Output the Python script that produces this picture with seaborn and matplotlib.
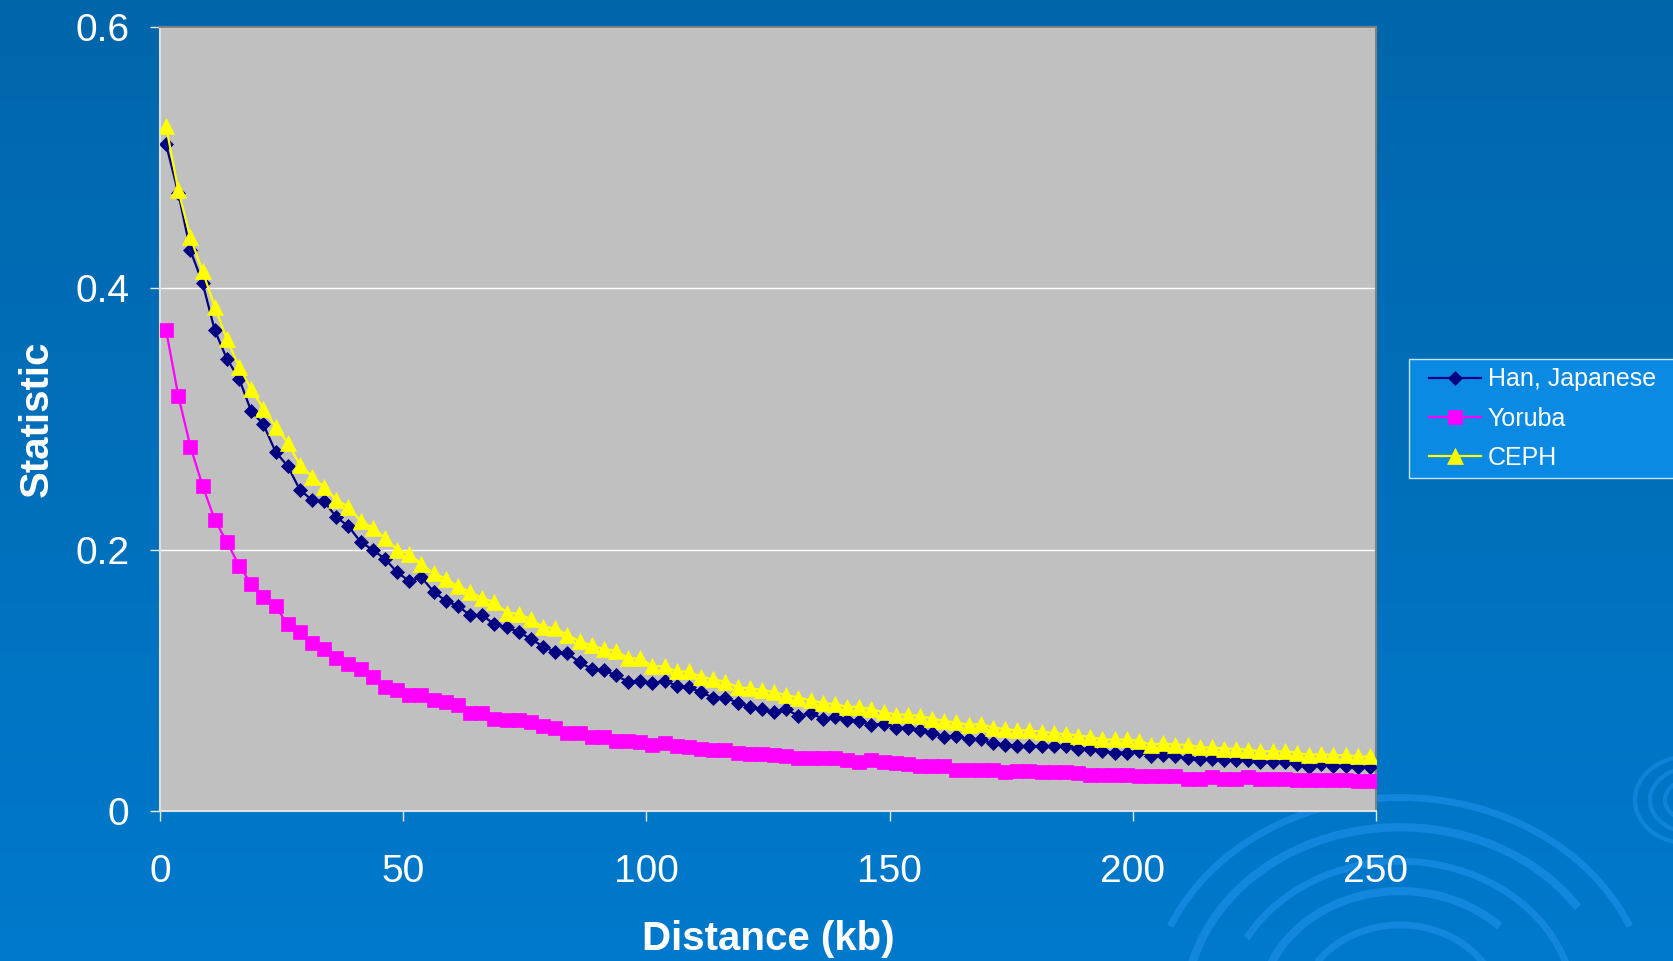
import numpy as np
import pandas as pd
import matplotlib
matplotlib.use("Agg")
import matplotlib.pyplot as plt
from matplotlib.patches import Arc, Rectangle
import seaborn as sns

# ---------------- data ----------------
distance_kb = [
    1.25, 3.75, 6.25, 8.75, 11.25, 13.75, 16.25, 18.75, 21.25, 23.75,
    26.25, 28.75, 31.25, 33.75, 36.25, 38.75, 41.25, 43.75, 46.25, 48.75,
    51.25, 53.75, 56.25, 58.75, 61.25, 63.75, 66.25, 68.75, 71.25, 73.75,
    76.25, 78.75, 81.25, 83.75, 86.25, 88.75, 91.25, 93.75, 96.25, 98.75,
    101.25, 103.75, 106.25, 108.75, 111.25, 113.75, 116.25, 118.75, 121.25, 123.75,
    126.25, 128.75, 131.25, 133.75, 136.25, 138.75, 141.25, 143.75, 146.25, 148.75,
    151.25, 153.75, 156.25, 158.75, 161.25, 163.75, 166.25, 168.75, 171.25, 173.75,
    176.25, 178.75, 181.25, 183.75, 186.25, 188.75, 191.25, 193.75, 196.25, 198.75,
    201.25, 203.75, 206.25, 208.75, 211.25, 213.75, 216.25, 218.75, 221.25, 223.75,
    226.25, 228.75, 231.25, 233.75, 236.25, 238.75, 241.25, 243.75, 246.25, 248.75,
]

han_japanese = [
    0.510, 0.473, 0.429, 0.404, 0.368, 0.346, 0.331, 0.306, 0.296, 0.275,
    0.264, 0.246, 0.238, 0.237, 0.225, 0.218, 0.206, 0.200, 0.193, 0.183,
    0.176, 0.179, 0.168, 0.161, 0.157, 0.150, 0.150, 0.143, 0.141, 0.137,
    0.132, 0.126, 0.122, 0.121, 0.114, 0.109, 0.108, 0.104, 0.099, 0.100,
    0.098, 0.100, 0.096, 0.095, 0.091, 0.087, 0.087, 0.083, 0.080, 0.078,
    0.076, 0.078, 0.073, 0.075, 0.071, 0.072, 0.070, 0.069, 0.066, 0.067,
    0.064, 0.064, 0.062, 0.060, 0.057, 0.058, 0.055, 0.055, 0.052, 0.051,
    0.050, 0.050, 0.050, 0.050, 0.050, 0.048, 0.048, 0.046, 0.045, 0.045,
    0.046, 0.042, 0.043, 0.042, 0.041, 0.040, 0.040, 0.039, 0.039, 0.039,
    0.038, 0.038, 0.038, 0.036, 0.034, 0.036, 0.035, 0.035, 0.034, 0.034,
]

yoruba = [
    0.368, 0.318, 0.279, 0.249, 0.223, 0.206, 0.188, 0.174, 0.164, 0.157,
    0.143, 0.137, 0.129, 0.124, 0.117, 0.113, 0.109, 0.103, 0.095, 0.093,
    0.089, 0.089, 0.085, 0.084, 0.081, 0.075, 0.075, 0.071, 0.070, 0.070,
    0.068, 0.065, 0.064, 0.060, 0.060, 0.057, 0.057, 0.054, 0.054, 0.053,
    0.051, 0.052, 0.050, 0.049, 0.048, 0.047, 0.047, 0.045, 0.044, 0.044,
    0.043, 0.042, 0.041, 0.041, 0.041, 0.041, 0.039, 0.038, 0.039, 0.038,
    0.037, 0.036, 0.035, 0.035, 0.035, 0.032, 0.032, 0.032, 0.032, 0.030,
    0.031, 0.031, 0.030, 0.030, 0.030, 0.029, 0.028, 0.028, 0.028, 0.028,
    0.027, 0.027, 0.027, 0.027, 0.025, 0.025, 0.026, 0.025, 0.025, 0.026,
    0.025, 0.025, 0.025, 0.024, 0.024, 0.024, 0.024, 0.024, 0.023, 0.023,
]

ceph = [
    0.524, 0.475, 0.439, 0.413, 0.386, 0.361, 0.340, 0.323, 0.308, 0.294,
    0.282, 0.265, 0.256, 0.248, 0.238, 0.233, 0.222, 0.217, 0.209, 0.200,
    0.197, 0.189, 0.182, 0.178, 0.172, 0.168, 0.163, 0.160, 0.152, 0.151,
    0.147, 0.141, 0.140, 0.135, 0.130, 0.127, 0.124, 0.123, 0.117, 0.117,
    0.111, 0.111, 0.107, 0.107, 0.103, 0.101, 0.099, 0.095, 0.094, 0.093,
    0.091, 0.089, 0.087, 0.085, 0.083, 0.082, 0.080, 0.080, 0.078, 0.076,
    0.074, 0.074, 0.073, 0.071, 0.069, 0.068, 0.066, 0.067, 0.064, 0.063,
    0.062, 0.062, 0.061, 0.060, 0.059, 0.058, 0.057, 0.055, 0.055, 0.055,
    0.054, 0.051, 0.052, 0.051, 0.051, 0.049, 0.049, 0.048, 0.048, 0.047,
    0.046, 0.046, 0.046, 0.045, 0.043, 0.044, 0.043, 0.043, 0.042, 0.042,
]

series_names = ["Han, Japanese", "Yoruba", "CEPH"]
x_ticks = [0, 50, 100, 150, 200, 250]
x_tick_labels = ["0", "50", "100", "150", "200", "250"]
y_ticks = [0, 0.2, 0.4, 0.6]
y_tick_labels = ["0", "0.2", "0.4", "0.6"]

# ---------------- style ----------------
plt.rcParams["font.family"] = ["Liberation Sans", "DejaVu Sans"]

W, H = 1674, 961
fig = plt.figure(figsize=(W / 100, H / 100), dpi=100)

# background gradient
bg = fig.add_axes([0, 0, 1, 1], zorder=-10)
top_c = np.array([0.0, 0.40, 0.67])
bot_c = np.array([0.0, 0.475, 0.80])
t = np.linspace(0, 1, 256)[:, None]
grad = (top_c[None, :] * (1 - t) + bot_c[None, :] * t)[:, None, :]
grad = np.repeat(grad, 2, axis=1)
bg.imshow(grad, extent=(0, W, H, 0), aspect="auto")
bg.set_xlim(0, W)
bg.set_ylim(H, 0)
bg.axis("off")
# decorative swirls (bottom right)
swirl_c = "#1a8ee6"
for r, a1, a2, lw in [(250, 200, 340, 5), (215, 190, 330, 6), (175, 205, 350, 5),
                      (140, 195, 320, 6), (100, 210, 345, 5)]:
    bg.add_patch(Arc((1400, 1010), 2 * r, 2 * r * 0.85, theta1=a1, theta2=a2,
                     color=swirl_c, lw=lw, alpha=0.7))
for r, a1, a2 in [(55, 100, 260), (40, 110, 280), (25, 120, 300)]:
    bg.add_patch(Arc((1690, 800), 2 * r, 2 * r * 0.8, theta1=a1, theta2=a2,
                     color=swirl_c, lw=3, alpha=0.6))
# legend box (drawn on the background layer)
bg.add_patch(Rectangle((1409, 359), 300, 118.5, facecolor="#0A8AE2",
                       edgecolor="#C8E0F4", lw=1.0, zorder=5))

# main axes
ax = fig.add_axes([160 / W, 1 - 811.4 / H, 1216 / W, 784.7 / H])
ax.set_facecolor("#C0C0C0")

df = pd.DataFrame({
    "distance": distance_kb * 3,
    "value": han_japanese + yoruba + ceph,
    "pop": [series_names[0]] * len(distance_kb)
           + [series_names[1]] * len(distance_kb)
           + [series_names[2]] * len(distance_kb),
})

styles = {
    "Han, Japanese": dict(color="#000080", marker="D", markersize=7.4),
    "Yoruba": dict(color="#FF00FF", marker="s", markersize=10.5),
    "CEPH": dict(color="#FFFF00", marker="^", markersize=11),
}
for i, name in enumerate(series_names):
    st = styles[name]
    sub = df[df["pop"] == name]
    sns.lineplot(data=sub, x="distance", y="value", ax=ax, estimator=None,
                 color=st["color"], marker=st["marker"], markersize=st["markersize"],
                 markeredgecolor=st["color"], markeredgewidth=0.5,
                 linewidth=1.6, label=name, zorder=3 + i)

ax.set_xlim(0, 250)
ax.set_ylim(0, 0.6)
ax.set_xticks(x_ticks)
ax.set_xticklabels(x_tick_labels)
ax.set_yticks(y_ticks)
ax.set_yticklabels(y_tick_labels)
ax.yaxis.grid(True, color="white", lw=1.0, zorder=0)
ax.xaxis.grid(False)
ax.set_axisbelow(True)

for side in ["top", "right"]:
    ax.spines[side].set_color("#808080")
    ax.spines[side].set_linewidth(1.5)
for side in ["left", "bottom"]:
    ax.spines[side].set_color("#E0E0E0")
    ax.spines[side].set_linewidth(1.5)

ax.tick_params(axis="both", colors="#E8E8E8", labelcolor="white", length=7,
               width=1, labelsize=28, direction="out")
ax.tick_params(axis="x", pad=24)
ax.tick_params(axis="y", pad=15)

ax.set_xlabel("Distance (kb)", fontsize=29, fontweight="bold", color="white")
ax.set_ylabel("Statistic", fontsize=29, fontweight="bold", color="white")
ax.xaxis.set_label_coords(0.5, -0.139)
ax.yaxis.set_label_coords(-0.086, 0.5)

handles, labels = ax.get_legend_handles_labels()
if ax.get_legend() is not None:
    ax.get_legend().remove()
leg = fig.legend(handles, labels, loc="upper left",
                 bbox_to_anchor=(1429 / W, 1 - 367.4 / H),
                 fontsize=18, frameon=False, borderpad=0, borderaxespad=0,
                 handlelength=2.08, handletextpad=0.27, labelspacing=0.61,
                 markerscale=1.0)
for txt in leg.get_texts():
    txt.set_color("white")

fig.savefig("out.png", dpi=100, facecolor=fig.get_facecolor())
